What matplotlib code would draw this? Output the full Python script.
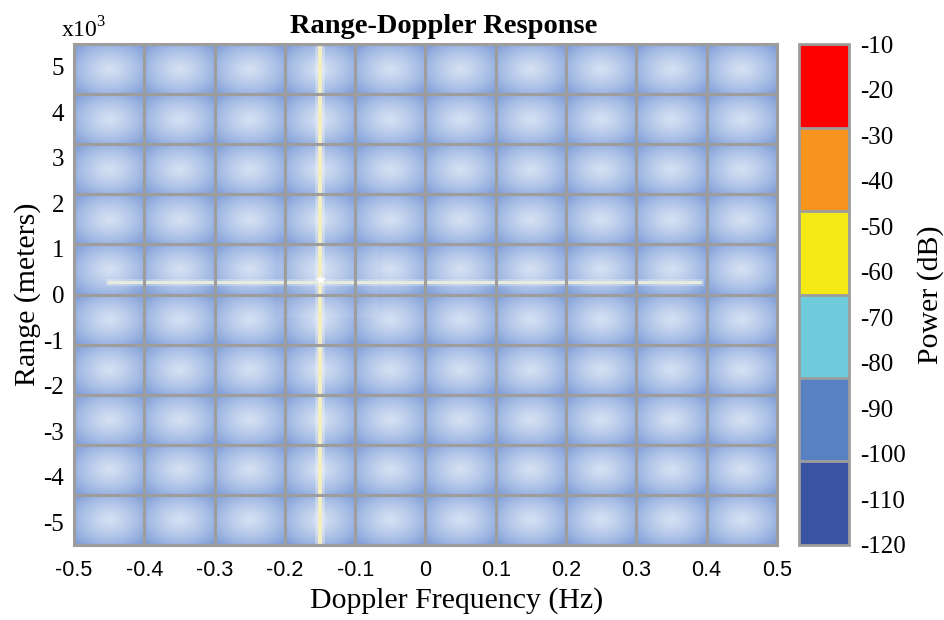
import numpy as np
import matplotlib
matplotlib.use("Agg")
import matplotlib.pyplot as plt
from matplotlib.colors import ListedColormap, BoundaryNorm, LinearSegmentedColormap

plt.rcParams['font.family'] = ['Liberation Serif', 'DejaVu Serif']
plt.rcParams['mathtext.fontset'] = 'custom'
plt.rcParams['mathtext.rm'] = 'Liberation Serif'

# axis values (range in units of 1e3 m)
doppler_ticks = [-0.5, -0.4, -0.3, -0.2, -0.1, 0, 0.1, 0.2, 0.3, 0.4, 0.5]
doppler_labels = ['-0.5', '-0.4', '-0.3', '-0.2', '-0.1', '0', '0.1', '0.2', '0.3', '0.4', '0.5']
range_ticks = [-5, -4, -3, -2, -1, 0, 1, 2, 3, 4, 5]
range_labels = ['-5', '-4', '-3', '-2', '-1', '0', '1', '2', '3', '4', '5']

# colorbar
power_bounds = [-120, -101.67, -83.33, -65, -46.67, -28.33, -10]
power_colors = ['#3a53a3', '#5781c2', '#6ecbdb', '#f5e916', '#f7941e', '#fe0000']
power_ticks = [-120, -110, -100, -90, -80, -70, -60, -50, -40, -30, -20, -10]

# target response
target_doppler = -0.15
target_range = 0.27
range_cut_start = -0.45
range_cut_end = 0.39

xlim = (-0.5, 0.5)
ylim = (-5.5, 5.5)
ncols, nrows = 10, 10
grid_color = '#9d9d9d'

fig = plt.figure(figsize=(9.44, 6.2), dpi=100)
ax = fig.add_axes([0.0784, 0.121, 0.7446, 0.808])
cax = fig.add_axes([0.846, 0.121, 0.053, 0.808])

# background tiles with a soft radial glow
nx, ny = 1000, 700
u = np.linspace(0, ncols, nx)
v = np.linspace(0, nrows, ny)
U, V = np.meshgrid(u, v)
dx = (U % 1) - 0.5
dy = (V % 1) - 0.5
r = np.sqrt(dx ** 2 + dy ** 2) / np.sqrt(0.5)
shade = 1 - np.clip(r, 0, 1) ** 1.2
tile_cmap = LinearSegmentedColormap.from_list('tile', ['#7a99d5', '#a9bfe6', '#d5e0f3'])
ax.imshow(shade, cmap=tile_cmap, vmin=0, vmax=1, extent=(*xlim, *ylim),
          origin='lower', aspect='auto', interpolation='bilinear', zorder=0)

for x in np.linspace(xlim[0], xlim[1], ncols + 1):
    ax.axvline(x, color=grid_color, lw=2.2, zorder=3)
for y in np.linspace(ylim[0], ylim[1], nrows + 1):
    ax.axhline(y, color=grid_color, lw=2.2, zorder=3)

# faint zoom box round the target
ax.fill_between([-0.209, -0.067], -0.51, 1.13, color='white', alpha=0.08, lw=0, zorder=1)

# target lines
ax.axvline(target_doppler, color='white', lw=7, alpha=0.3, zorder=2)
ax.axvline(target_doppler, color='#f3eebf', lw=3, zorder=2)
ax.plot([range_cut_start, range_cut_end], [target_range, target_range],
        color='white', lw=5, alpha=0.25, zorder=2)
ax.plot([range_cut_start, range_cut_end], [target_range, target_range],
        color='#e6ebdc', lw=2.2, zorder=2)
ax.plot(target_doppler + 0.002, target_range + 0.05, marker='*', ms=7,
        color='white', mew=0, zorder=4)

ax.set_xlim(*xlim)
ax.set_ylim(*ylim)
ax.set_xticks(doppler_ticks)
ax.set_xticklabels(doppler_labels, fontfamily='Liberation Sans', fontsize=15.5)
ax.set_yticks(range_ticks)
ax.set_yticklabels(range_labels, fontsize=18)
ax.tick_params(axis='x', length=0, pad=11)
ax.tick_params(axis='y', length=0, pad=7)
for s in ax.spines.values():
    s.set_color(grid_color)
    s.set_linewidth(2.2)

ax.set_xlabel('Doppler Frequency (Hz)', fontsize=21.5, labelpad=4)
ax.xaxis.set_label_coords(0.544, -0.085)
ax.set_ylabel('Range (meters)', fontsize=21.5, labelpad=2)
ax.set_title('Range-Doppler Response', fontsize=20.5, fontweight='bold', x=0.526, pad=8)
ax.text(0.014, 1.003, 'x10$^3$', transform=ax.transAxes, fontsize=17, ha='center', va='bottom')

cmap = ListedColormap(power_colors)
norm = BoundaryNorm(power_bounds, cmap.N)
sm = matplotlib.cm.ScalarMappable(norm=norm, cmap=cmap)
cb = fig.colorbar(sm, cax=cax, drawedges=True, ticks=power_ticks)
cb.outline.set_edgecolor(grid_color)
cb.outline.set_linewidth(2)
cb.dividers.set_color(grid_color)
cb.dividers.set_linewidth(2)
cb.ax.minorticks_off()
cb.ax.tick_params(which='both', length=0, labelsize=18, pad=8)
cb.ax.set_yticklabels([str(t) for t in power_ticks])
cb.set_label('Power (dB)', fontsize=21.5, labelpad=8)

fig.savefig('out.png', dpi=100)
